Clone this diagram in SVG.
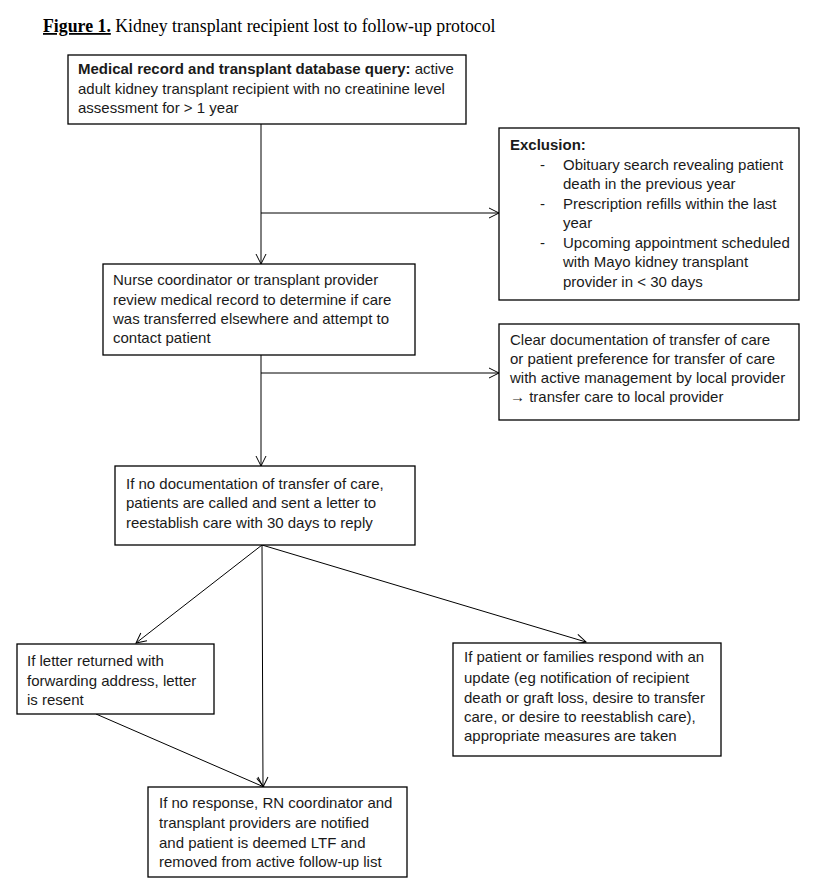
<svg xmlns="http://www.w3.org/2000/svg" width="837" height="882" viewBox="0 0 837 882">
<style>
.box{fill:#fff;stroke:#000;stroke-width:1.3}
.t{font-family:"Liberation Sans",Arial,sans-serif;font-size:15px;fill:#1a1a1a}
.b{font-weight:bold}
.ttl{font-family:"Liberation Serif","Times New Roman",serif;font-size:17.8px;fill:#000}
.c{fill:none;stroke:#000;stroke-width:1}
</style>
<defs>
<marker id="a" viewBox="0 0 12 12" refX="11" refY="6" markerWidth="12" markerHeight="12" markerUnits="userSpaceOnUse" orient="auto">
<path d="M1,1 L11,6 L1,11" fill="none" stroke="#000" stroke-width="1"/>
</marker>
</defs>
<rect width="837" height="882" fill="#fff"/>
<text class="ttl" x="43" y="32"><tspan font-weight="bold" text-decoration="underline">Figure 1.</tspan> Kidney transplant recipient lost to follow-up protocol</text>

<g id="connectors">
<line class="c" x1="261" y1="124" x2="261" y2="264" marker-end="url(#a)"/>
<line class="c" x1="261" y1="213" x2="499" y2="213" marker-end="url(#a)"/>
<line class="c" x1="261" y1="355" x2="261" y2="466" marker-end="url(#a)"/>
<line class="c" x1="261" y1="373" x2="499" y2="373" marker-end="url(#a)"/>
<line class="c" x1="262" y1="545" x2="136" y2="643" marker-end="url(#a)"/>
<line class="c" x1="262" y1="545" x2="263" y2="787" marker-end="url(#a)"/>
<line class="c" x1="262" y1="545" x2="586" y2="642" marker-end="url(#a)"/>
<line class="c" x1="96" y1="714" x2="264" y2="787" marker-end="url(#a)"/>
</g>

<g id="query">
<rect class="box" x="68" y="55" width="398" height="69"/>
<text class="t" x="78" y="74"><tspan class="b">Medical record and transplant database query:</tspan> active</text>
<text class="t" x="78" y="94">adult kidney transplant recipient with no creatinine level</text>
<text class="t" x="78" y="113">assessment for &gt; 1 year</text>
</g>

<g id="exclusion">
<rect class="box" x="499" y="128" width="300" height="172"/>
<text class="t b" x="510" y="150">Exclusion:</text>
<text class="t" x="540" y="170">-</text>
<text class="t" x="563" y="170">Obituary search revealing patient</text>
<text class="t" x="563" y="189">death in the previous year</text>
<text class="t" x="540" y="209">-</text>
<text class="t" x="563" y="209">Prescription refills within the last</text>
<text class="t" x="563" y="228">year</text>
<text class="t" x="540" y="248">-</text>
<text class="t" x="563" y="248">Upcoming appointment scheduled</text>
<text class="t" x="563" y="267">with Mayo kidney transplant</text>
<text class="t" x="563" y="287">provider in &lt; 30 days</text>
</g>

<g id="review">
<rect class="box" x="103" y="264" width="312" height="91"/>
<text class="t" x="113" y="285">Nurse coordinator or transplant provider</text>
<text class="t" x="113" y="305">review medical record to determine if care</text>
<text class="t" x="113" y="324">was transferred elsewhere and attempt to</text>
<text class="t" x="113" y="343">contact patient</text>
</g>

<g id="transfer">
<rect class="box" x="499" y="324" width="300" height="96"/>
<text class="t" x="510" y="345">Clear documentation of transfer of care</text>
<text class="t" x="510" y="364">or patient preference for transfer of care</text>
<text class="t" x="510" y="383">with active management by local provider</text>
<text class="t" x="510" y="402"><tspan font-weight="bold">→</tspan> transfer care to local provider</text>
</g>

<g id="letter">
<rect class="box" x="115" y="466" width="300" height="79"/>
<text class="t" x="126" y="489">If no documentation of transfer of care,</text>
<text class="t" x="126" y="508">patients are called and sent a letter to</text>
<text class="t" x="126" y="528">reestablish care with 30 days to reply</text>
</g>

<g id="returned">
<rect class="box" x="17" y="644" width="197" height="70"/>
<text class="t" x="27" y="666">If letter returned with</text>
<text class="t" x="27" y="686">forwarding address, letter</text>
<text class="t" x="27" y="705">is resent</text>
</g>

<g id="respond">
<rect class="box" x="453" y="643" width="268" height="113"/>
<text class="t" x="464" y="662">If patient or families respond with an</text>
<text class="t" x="464" y="683">update (eg notification of recipient</text>
<text class="t" x="464" y="703">death or graft loss, desire to transfer</text>
<text class="t" x="464" y="722">care, or desire to reestablish care),</text>
<text class="t" x="464" y="741">appropriate measures are taken</text>
</g>

<g id="ltf">
<rect class="box" x="148" y="787" width="259" height="90"/>
<text class="t" x="159" y="808">If no response, RN coordinator and</text>
<text class="t" x="159" y="828">transplant providers are notified</text>
<text class="t" x="159" y="848">and patient is deemed LTF and</text>
<text class="t" x="159" y="867">removed from active follow-up list</text>
</g>
</svg>
